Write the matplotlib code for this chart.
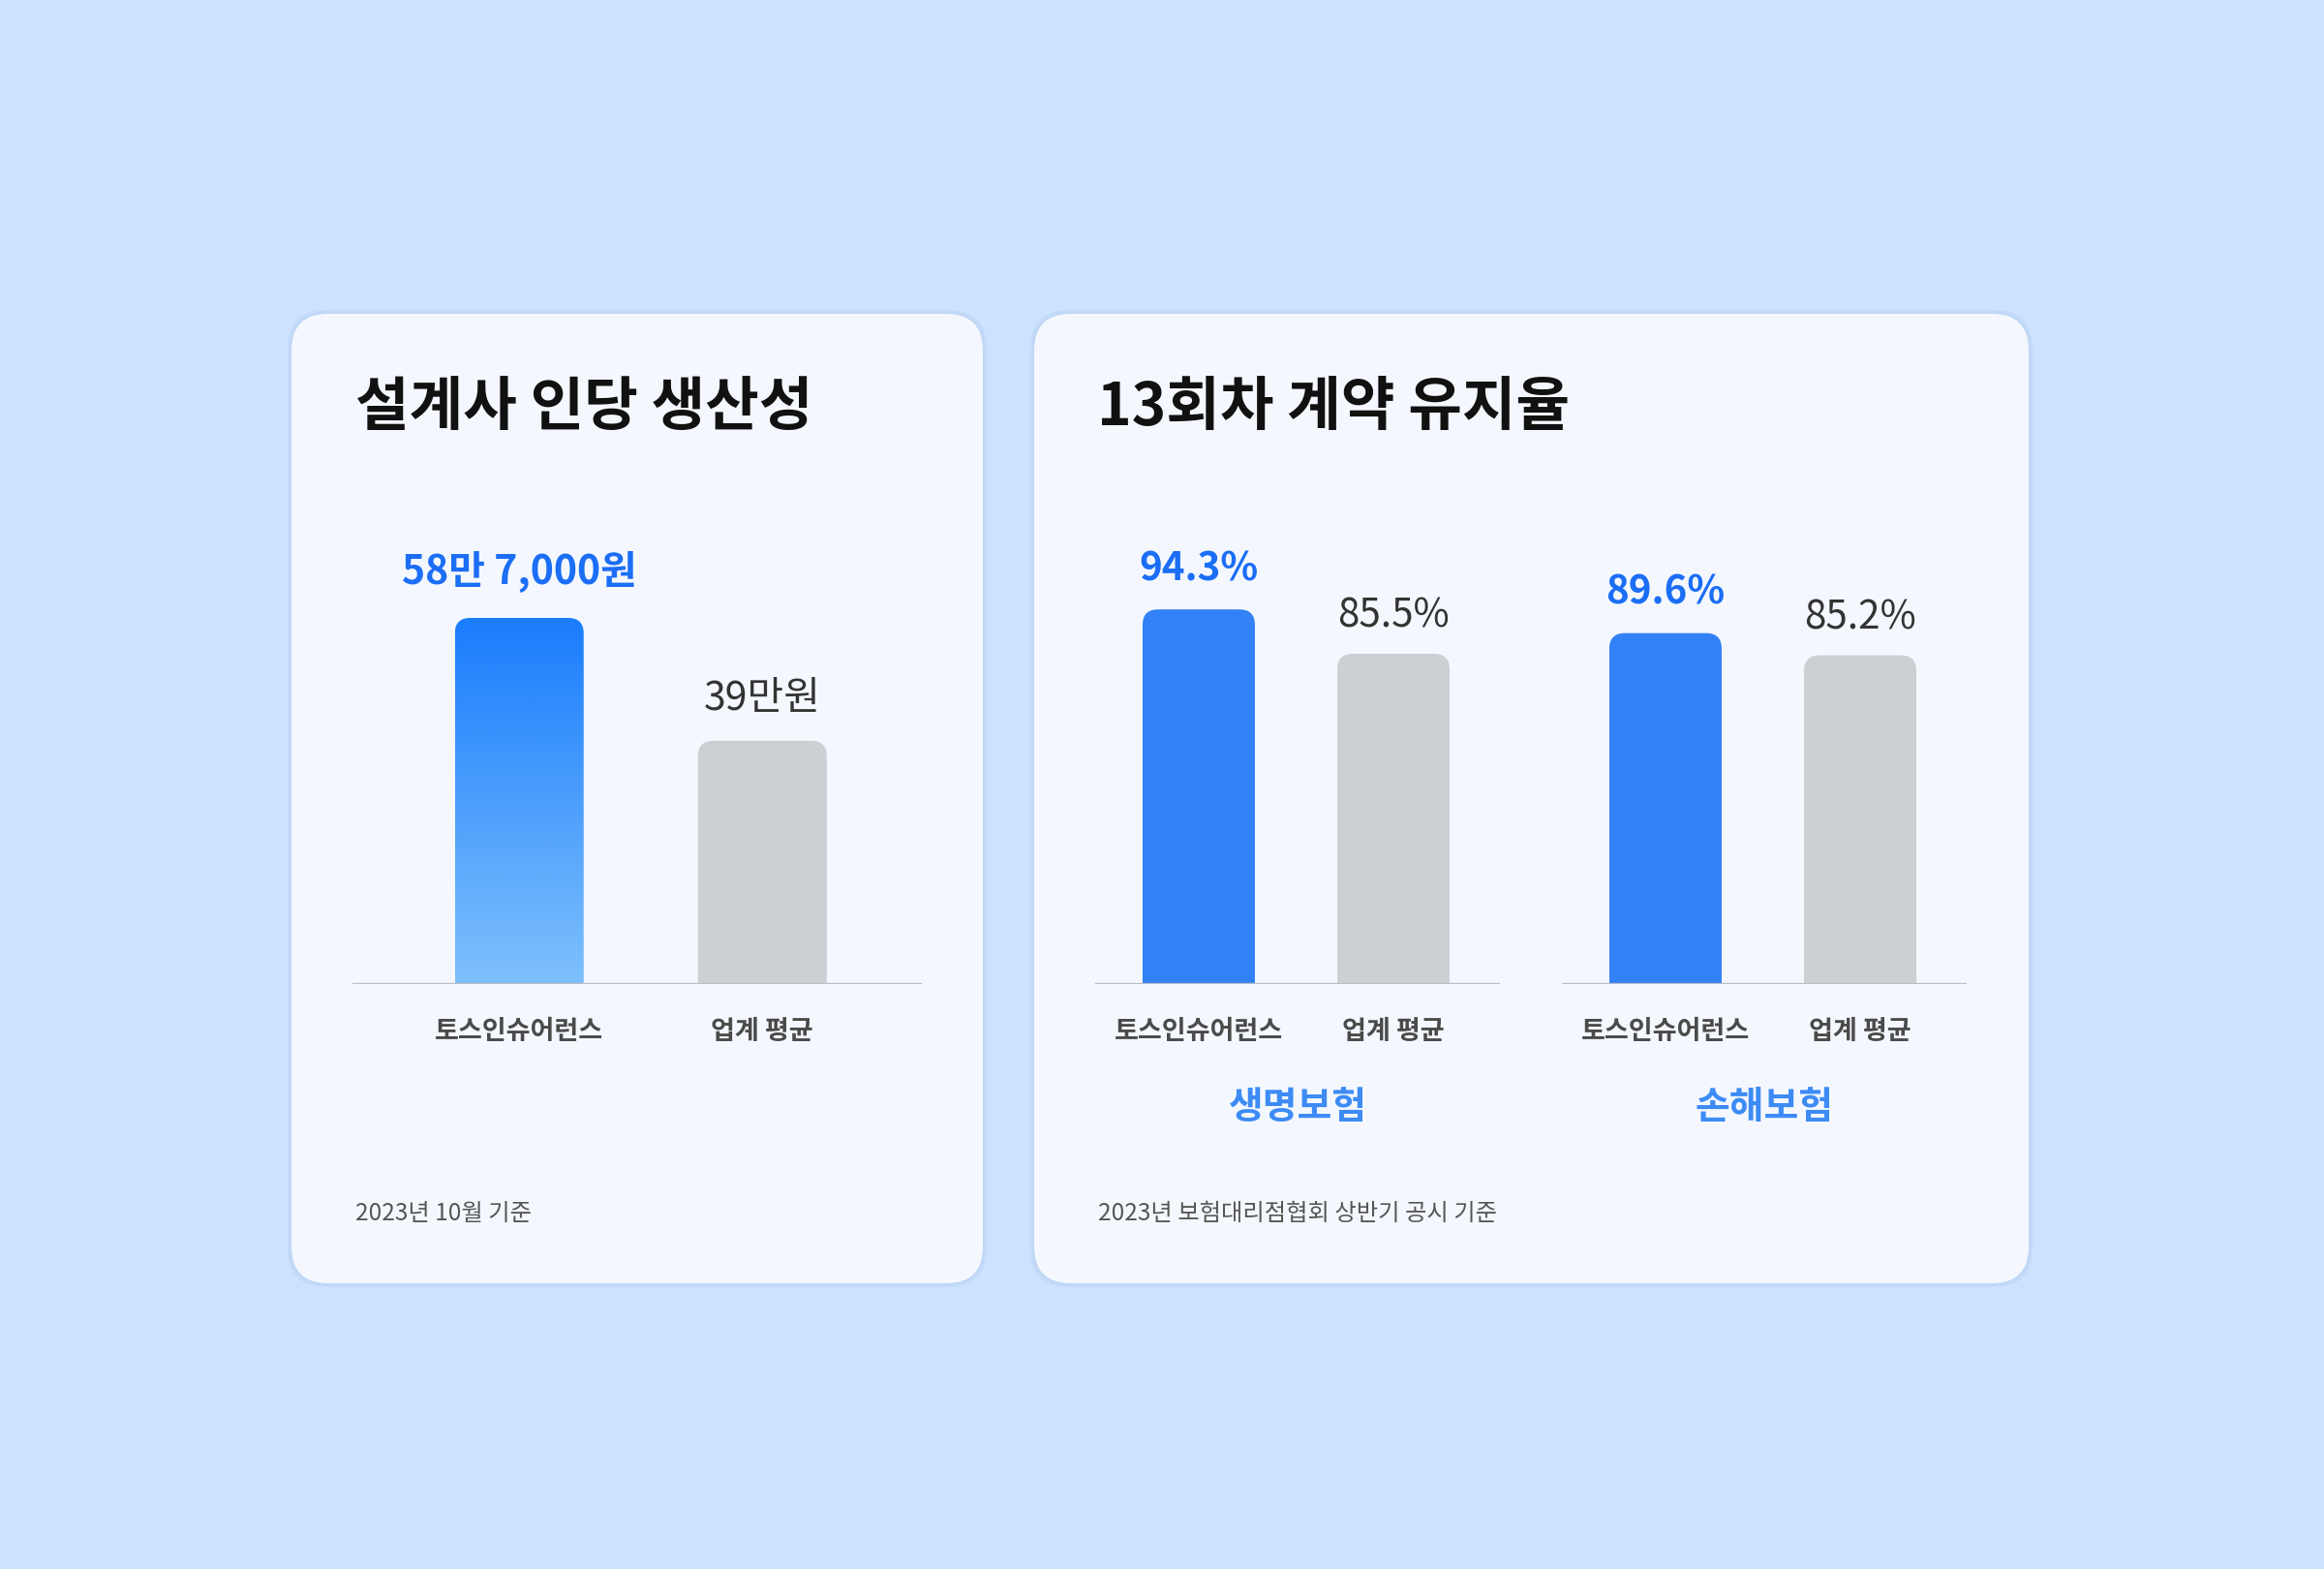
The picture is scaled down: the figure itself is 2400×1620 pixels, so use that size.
import matplotlib
matplotlib.use("Agg")
import matplotlib.pyplot as plt
import numpy as np
from matplotlib.patches import FancyBboxPatch
from matplotlib.colors import LinearSegmentedColormap

plt.rcParams['font.family'] = ['Noto Sans CJK KR', 'DejaVu Sans']

# data
prod_labels = ['토스인슈어런스', '업계 평균']
prod_values = [58.7, 39.0]          # 만원
prod_texts = ['58만 7,000원', '39만원']

groups = ['생명보험', '손해보험']
ret_labels = ['토스인슈어런스', '업계 평균']
ret_values = [[94.3, 85.5], [89.6, 85.2]]
ret_texts = [['94.3%', '85.5%'], ['89.6%', '85.2%']]

BG = '#CCE2FD'
CARD = '#F4F8FE'
BLUE = '#3381F6'
GREY = '#CDD0D3'
BLUE_TXT = '#1B6EF5'
GROUP_TXT = '#3D8BF5'

W, H = 2400, 1620
fig = plt.figure(figsize=(W / 100, H / 100), dpi=100, facecolor=BG)


def card(x0, x1, top, bottom):
    # pixel coords measured from top-left
    for pad, col, a in [(4, '#BAD3F6', 0.45), (2, '#BFD6F6', 0.7)]:
        sh = FancyBboxPatch(((x0 - pad) / 100, (H - bottom - pad) / 100),
                            (x1 - x0 + 2 * pad) / 100, (bottom - top + 2 * pad) / 100,
                            boxstyle="round,pad=0,rounding_size=0.40",
                            transform=fig.dpi_scale_trans, fc=col, ec='none', alpha=a,
                            zorder=-5)
        fig.patches.append(sh)
    p = FancyBboxPatch((x0 / 100, (H - bottom) / 100), (x1 - x0) / 100, (bottom - top) / 100,
                       boxstyle="round,pad=0,rounding_size=0.38",
                       transform=fig.dpi_scale_trans, fc=CARD, ec='none', zorder=-4)
    fig.patches.append(p)


def make_axes(x0, x1, base, height):
    ax = fig.add_axes([x0 / W, (H - base) / H, (x1 - x0) / W, height / H])
    ax.set_facecolor('none')
    ax.axis('off')
    return ax


def rounded_bars(ax, xs, vals, width, ylo, ylim, xlim, axw, axh, colors, radius_px=16):
    ax.set_xlim(*xlim)
    ax.set_ylim(*ylim)
    xpp = (xlim[1] - xlim[0]) / axw
    ypp = (ylim[1] - ylim[0]) / axh
    bars = ax.bar(xs, np.array(vals) - ylo + 30 * ypp, width=width,
                  bottom=ylo - 30 * ypp, color='none')
    patches = []
    for b, c in zip(bars, colors):
        p = FancyBboxPatch((b.get_x(), b.get_y()), b.get_width(), b.get_height(),
                           boxstyle="round,pad=0,rounding_size=%f" % (radius_px * xpp),
                           mutation_aspect=ypp / xpp, fc=c if c else 'none', ec='none',
                           zorder=2)
        ax.add_patch(p)
        patches.append((b, p))
        b.remove()
    ax.axhline(ylim[0], color='#B9BEC5', lw=1.6, zorder=3)
    return patches


card(301, 1015, 324, 1325)
card(1068, 2095, 324, 1325)

# ---------- left card ----------
fig.text(367 / W, 1 - 421 / H, '설계사 인당 생산성', fontsize=43.5, fontweight='bold',
         color='#111111', ha='left', va='center')

axl = make_axes(364, 952, 1016, 557)
xs = np.arange(len(prod_values))
pl = rounded_bars(axl, xs, prod_values, 0.53, 0, (0, 86.5), (-0.686, 1.656),
                  588, 557, [None, GREY])
# gradient for the blue bar
b0, p0 = pl[0]
grad = LinearSegmentedColormap.from_list('g', ['#7EC0FC', '#1A7DFC'])
im = axl.imshow(np.linspace(0, 1, 256).reshape(-1, 1), cmap=grad, origin='lower',
                extent=[b0.get_x(), b0.get_x() + b0.get_width(), 0, prod_values[0]],
                aspect='auto', zorder=2)
im.set_clip_path(p0)
axl.set_xlim(-0.686, 1.656)
axl.set_ylim(0, 86.5)

for i, (v, t) in enumerate(zip(prod_values, prod_texts)):
    axl.annotate(t, (i, v), xytext=(0, 34 if i == 0 else 31), textcoords='offset points',
                 ha='center', va='center', fontsize=29.5,
                 fontweight='bold' if i == 0 else 'medium',
                 color=BLUE_TXT if i == 0 else '#333333')
    axl.annotate(prod_labels[i], (i, 0), xytext=(0, -35), textcoords='offset points',
                 ha='center', va='center', fontsize=19.5, fontweight='bold', color='#4A4A4A')

fig.text(367 / W, 1 - 1253 / H, '2023년 10월 기준', fontsize=17.5, color='#555555',
         ha='left', va='center')

# ---------- right card ----------
fig.text(1133 / W, 1 - 421 / H, '13회차 계약 유지율', fontsize=43.5, fontweight='bold',
         color='#111111', ha='left', va='center')

for g, x0 in enumerate([1131, 1613]):
    ax = make_axes(x0, x0 + 418, 1016, 557)
    vals = ret_values[g]
    rounded_bars(ax, np.arange(2), vals, 0.577, 20, (20, 127), (-0.532, 1.547),
                 418, 557, [BLUE, GREY])
    for i, v in enumerate(vals):
        ax.annotate(ret_texts[g][i], (i, v), xytext=(0, 30 if i == 0 else 28),
                    textcoords='offset points', ha='center', va='center', fontsize=29,
                    fontweight='bold' if i == 0 else 'medium',
                    color=BLUE_TXT if i == 0 else '#333333')
        ax.annotate(ret_labels[i], (i, 20), xytext=(0, -35), textcoords='offset points',
                    ha='center', va='center', fontsize=19.5, fontweight='bold',
                    color='#4A4A4A')
    ax.annotate(groups[g], (0.5, 0), xycoords='axes fraction', xytext=(0, -92),
                textcoords='offset points', ha='center', va='center', fontsize=28,
                fontweight='bold', color=GROUP_TXT)

fig.text(1134 / W, 1 - 1253 / H, '2023년 보험대리점협회 상반기 공시 기준', fontsize=17.5,
         color='#555555', ha='left', va='center')

fig.savefig('out.png', dpi=100, facecolor=BG)
